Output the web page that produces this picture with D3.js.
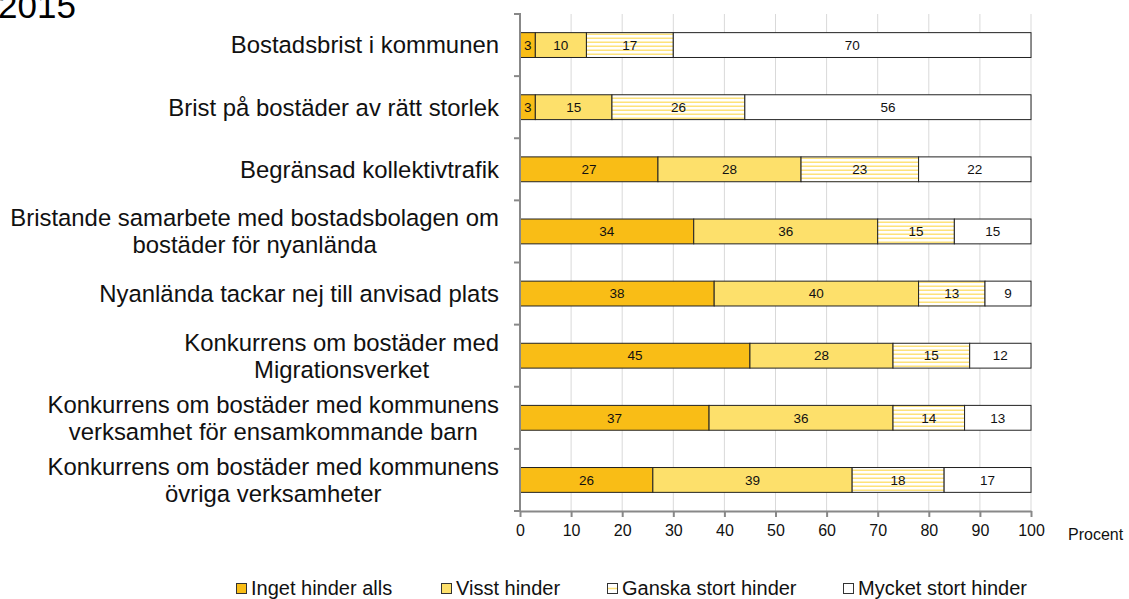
<!DOCTYPE html>
<html>
<head>
<meta charset="utf-8">
<script src="https://cdn.jsdelivr.net/npm/d3@7"></script>
<style>
  body { margin: 0; background: #fff; }
  svg { display: block; font-family: "Liberation Sans", Arial, sans-serif; }
</style>
</head>
<body>
<svg width="1129" height="599"></svg>
<script>
const CATEGORIES = [
    ['Bostadsbrist i kommunen'],
    ['Brist på bostäder av rätt storlek'],
    ['Begränsad kollektivtrafik'],
    ['Bristande samarbete med bostadsbolagen om', 'bostäder för nyanlända'],
    ['Nyanlända tackar nej till anvisad plats'],
    ['Konkurrens om bostäder med', 'Migrationsverket'],
    ['Konkurrens om bostäder med kommunens', 'verksamhet för ensamkommande barn'],
    ['Konkurrens om bostäder med kommunens', 'övriga verksamheter']
];
const SERIES = ['Inget hinder alls', 'Visst hinder', 'Ganska stort hinder', 'Mycket stort hinder'];
const INGET = [3, 3, 27, 34, 38, 45, 37, 26];
const VISST = [10, 15, 28, 36, 40, 28, 36, 39];
const GANSKA = [17, 26, 23, 15, 13, 15, 14, 18];
const MYCKET = [70, 56, 22, 15, 9, 12, 13, 17];
const X_TICKS = [0, 10, 20, 30, 40, 50, 60, 70, 80, 90, 100];

const FILLS = ['#f9bd16', '#fde06b', 'url(#stripes)', '#ffffff'];
const STRIPE = '#fde27a';

const svg = d3.select('svg');

// striped pattern for "Ganska stort hinder"
const pat = svg.append('defs').append('pattern')
    .attr('id', 'stripes')
    .attr('patternUnits', 'userSpaceOnUse')
    .attr('width', 8).attr('height', 4);
pat.append('rect').attr('width', 8).attr('height', 4).attr('fill', '#fff');
pat.append('rect').attr('y', 1.5).attr('width', 8).attr('height', 1.5).attr('fill', STRIPE);

const x = d3.scaleLinear().domain([0, 100]).range([520, 1031]);
const keys = CATEGORIES.map((c, i) => i);
const y = d3.scaleBand().domain(keys).range([14, 511]).paddingInner(0.6).paddingOuter(0.3);
const yOuter = d3.scaleBand().domain(keys).range([14, 511]);

// rows -> stacked data
const rows = keys.map(i => ({ i, v: [INGET[i], VISST[i], GANSKA[i], MYCKET[i]] }));
const stack = d3.stack().keys([0, 1, 2, 3]).value((d, k) => d.v[k]);
const stacked = stack(rows);

// title (cut at the top, as in the original)
svg.append('text').attr('x', -2).attr('y', 18)
    .attr('font-size', 35).attr('fill', '#000').text('2015');

// gridlines
svg.append('g').selectAll('line')
    .data(X_TICKS.slice(1))
    .join('line')
    .attr('x1', d => x(d)).attr('x2', d => x(d))
    .attr('y1', 14).attr('y2', 511)
    .attr('stroke', '#d9d9d9').attr('stroke-width', 1);

// bars
const segs = svg.append('g').selectAll('g')
    .data(stacked)
    .join('g')
    .attr('fill', (d, k) => FILLS[k]);

segs.selectAll('rect')
    .data(d => d)
    .join('rect')
    .attr('x', d => x(d[0]))
    .attr('y', d => y(d.data.i))
    .attr('width', d => x(d[1]) - x(d[0]))
    .attr('height', y.bandwidth())
    .attr('stroke', '#222')
    .attr('stroke-width', 1);

segs.selectAll('text')
    .data(d => d)
    .join('text')
    .attr('x', d => (x(d[0]) + x(d[1])) / 2)
    .attr('y', d => y(d.data.i) + y.bandwidth() / 2)
    .attr('dy', '0.35em')
    .attr('text-anchor', 'middle')
    .attr('font-size', 13.5)
    .attr('fill', '#111')
    .text(d => d[1] - d[0]);

// x axis
const xAxis = svg.append('g')
    .attr('transform', 'translate(0,511)')
    .call(d3.axisBottom(x).tickValues(X_TICKS).tickSize(6).tickPadding(8).tickSizeOuter(0));
xAxis.select('.domain').attr('stroke', '#888').attr('stroke-width', 2);
xAxis.selectAll('.tick line').attr('stroke', '#888').attr('stroke-width', 2);
xAxis.selectAll('.tick text').attr('font-size', 16).attr('fill', '#111')
    .attr('font-family', '"Liberation Sans", Arial, sans-serif');

svg.append('text').attr('x', 1068).attr('y', 540)
    .attr('font-size', 16).attr('fill', '#111').text('Procent');

// y axis line and ticks at band boundaries
svg.append('line').attr('x1', 520).attr('x2', 520).attr('y1', 13).attr('y2', 511)
    .attr('stroke', '#888').attr('stroke-width', 2);
svg.append('g').selectAll('line')
    .data(keys.map(k => yOuter(k)).concat([511]))
    .join('line')
    .attr('x1', 514).attr('x2', 520)
    .attr('y1', d => d).attr('y2', d => d)
    .attr('stroke', '#888').attr('stroke-width', 2);

// category labels (multi-line, centred within a right-aligned block)
const labels = svg.append('g').selectAll('g')
    .data(keys)
    .join('g');
labels.each(function (k) {
    const g = d3.select(this);
    const lines = CATEGORIES[k];
    const lh = 27;
    const cy = yOuter(k) + yOuter.bandwidth() / 2;
    const t = g.selectAll('text').data(lines).join('text')
        .attr('font-size', 23.9)
        .attr('fill', '#111')
        .attr('y', (d, j) => cy + (j - (lines.length - 1) / 2) * lh)
        .attr('dy', '0.35em')
        .attr('text-anchor', 'middle')
        .text(d => d);
    let w = 0;
    t.each(function () { w = Math.max(w, this.getComputedTextLength()); });
    t.attr('x', 499 - w / 2);
});

// legend
const LEG_X = [236, 441, 607, 843];
const leg = svg.append('g').selectAll('g')
    .data(SERIES)
    .join('g')
    .attr('transform', (d, k) => `translate(${LEG_X[k]},0)`);
leg.append('rect')
    .attr('x', 0.5).attr('y', 583.5).attr('width', 10).attr('height', 10)
    .attr('fill', (d, k) => FILLS[k] === 'url(#stripes)' ? '#fff' : FILLS[k])
    .attr('stroke', '#333').attr('stroke-width', 1);
leg.filter((d, k) => k === 2).append('line')
    .attr('x1', 1).attr('x2', 10).attr('y1', 588.5).attr('y2', 588.5)
    .attr('stroke', STRIPE).attr('stroke-width', 1.5);
leg.append('text')
    .attr('x', 15).attr('y', 595)
    .attr('font-size', 20).attr('fill', '#111')
    .text(d => d);
</script>
</body>
</html>
